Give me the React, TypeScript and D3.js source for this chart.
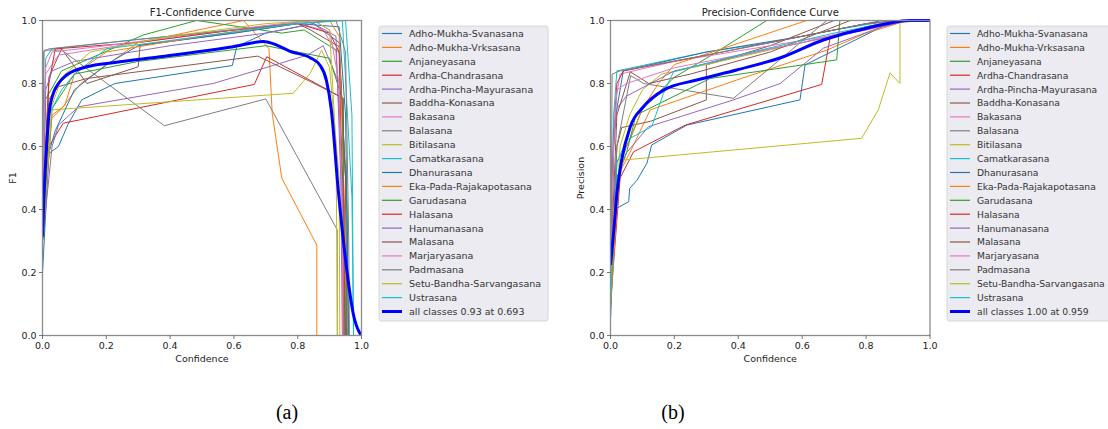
import React from "react";
import * as d3 from "d3";

const classNames = [
  "Adho-Mukha-Svanasana", "Adho-Mukha-Vrksasana", "Anjaneyasana", "Ardha-Chandrasana",
  "Ardha-Pincha-Mayurasana", "Baddha-Konasana", "Bakasana", "Balasana", "Bitilasana",
  "Camatkarasana", "Dhanurasana", "Eka-Pada-Rajakapotasana", "Garudasana", "Halasana",
  "Hanumanasana", "Malasana", "Marjaryasana", "Padmasana", "Setu-Bandha-Sarvangasana", "Ustrasana",
];

const tab10 = ["#1f77b4", "#ff7f0e", "#2ca02c", "#d62728", "#9467bd", "#8c564b", "#e377c2", "#7f7f7f", "#bcbd22", "#17becf"];

const ticks = [0, 0.2, 0.4, 0.6, 0.8, 1.0];

// [confidence, F1] per class
const f1Curves: number[][][] = [
  [[0, 0.2], [0.02, 0.578], [0.05, 0.6], [0.08, 0.67], [0.123, 0.748], [0.227, 0.8], [0.595, 0.857], [0.609, 0.917], [0.7, 0.96], [0.85, 0.99], [0.93, 0.93], [0.95, 0.5], [0.955, 0]],
  [[0, 0.3], [0.02, 0.68], [0.06, 0.72], [0.12, 0.8], [0.3, 0.93], [0.63, 1.0], [0.71, 0.91], [0.72, 0.706], [0.75, 0.5], [0.86, 0.287], [0.86, 0]],
  [[0, 0.4], [0.01, 0.75], [0.06, 0.84], [0.316, 0.954], [0.483, 1.0], [0.62, 0.98], [0.75, 0.96], [0.82, 0.97], [0.93, 0.9], [0.955, 0.4], [0.958, 0]],
  [[0, 0.3], [0.02, 0.6], [0.065, 0.674], [0.664, 0.797], [0.703, 0.885], [0.943, 0.753], [0.945, 0]],
  [[0, 0.3], [0.03, 0.6], [0.05, 0.668], [0.113, 0.726], [0.535, 0.8], [0.83, 0.89], [0.88, 0.92], [0.93, 0.8], [0.945, 0.3], [0.948, 0]],
  [[0, 0.4], [0.02, 0.82], [0.06, 0.91], [0.139, 0.8], [0.3, 0.853], [0.306, 0.922], [0.6, 0.96], [0.8, 0.99], [0.84, 0.97], [0.93, 0.917], [0.95, 0.5], [0.953, 0]],
  [[0, 0.5], [0.01, 0.83], [0.05, 0.89], [0.3, 0.93], [0.6, 0.97], [0.8, 0.99], [0.88, 0.97], [0.92, 0.9], [0.94, 0.5], [0.945, 0]],
  [[0, 0.5], [0.005, 0.906], [0.06, 0.906], [0.382, 0.666], [0.7, 0.751], [0.924, 0.335], [0.924, 0]],
  [[0, 0.3], [0.024, 0.716], [0.786, 0.769], [0.839, 0.832], [0.875, 0.906], [0.9, 0.85], [0.93, 0.5], [0.932, 0]],
  [[0, 0.5], [0.01, 0.88], [0.03, 0.91], [0.3, 0.94], [0.6, 0.97], [0.85, 1.0], [0.94, 1.0], [0.97, 0.44], [0.975, 0]],
  [[0, 0.3], [0.02, 0.58], [0.04, 0.65], [0.1, 0.78], [0.2, 0.86], [0.3, 0.92], [0.6, 0.96], [0.8, 0.99], [0.93, 0.98], [0.95, 0.7], [0.96, 0]],
  [[0, 0.3], [0.03, 0.7], [0.07, 0.73], [0.1, 0.83], [0.2, 0.9], [0.5, 0.95], [0.7, 0.98], [0.9, 1.0], [0.93, 0.95], [0.95, 0.3], [0.95, 0]],
  [[0, 0.3], [0.03, 0.72], [0.1, 0.83], [0.3, 0.87], [0.7, 0.92], [0.9, 0.88], [0.94, 0.75], [0.95, 0]],
  [[0, 0.4], [0.02, 0.8], [0.04, 0.91], [0.3, 0.93], [0.6, 0.97], [0.8, 0.99], [0.9, 0.96], [0.93, 0.9], [0.94, 0.4], [0.943, 0]],
  [[0, 0.4], [0.01, 0.78], [0.03, 0.84], [0.1, 0.87], [0.4, 0.92], [0.7, 0.96], [0.85, 0.99], [0.92, 0.95], [0.935, 0.5], [0.94, 0]],
  [[0, 0.4], [0.02, 0.75], [0.05, 0.79], [0.139, 0.816], [0.675, 0.887], [0.84, 0.806], [0.93, 0.76], [0.945, 0.4], [0.948, 0]],
  [[0, 0.5], [0.01, 0.85], [0.03, 0.9], [0.2, 0.92], [0.5, 0.96], [0.75, 0.99], [0.85, 1.0], [0.9, 0.97], [0.93, 0.8], [0.94, 0.4], [0.942, 0]],
  [[0, 0.6], [0.003, 0.9], [0.02, 0.91], [0.3, 0.94], [0.6, 0.97], [0.8, 0.99], [0.92, 1.0], [0.95, 0.9], [0.96, 0.3], [0.962, 0]],
  [[0, 0.3], [0.03, 0.73], [0.06, 0.82], [0.15, 0.9], [0.4, 0.95], [0.7, 0.99], [0.85, 1.0], [0.9, 0.97], [0.92, 0.6], [0.925, 0]],
  [[0, 0.4], [0.02, 0.7], [0.06, 0.78], [0.1, 0.83], [0.2, 0.91], [0.5, 0.95], [0.8, 0.99], [0.95, 1.0], [0.97, 0.7], [0.975, 0]],
];

const f1All = [
  [0, 0.314], [0.005, 0.45], [0.013, 0.6], [0.02, 0.7], [0.034, 0.769], [0.05, 0.8], [0.076, 0.827], [0.139, 0.853],
  [0.227, 0.867], [0.368, 0.885], [0.598, 0.917], [0.693, 0.933], [0.734, 0.922], [0.776, 0.902], [0.839, 0.882],
  [0.87, 0.858], [0.89, 0.81], [0.905, 0.72], [0.927, 0.462], [0.954, 0.208], [0.974, 0.07], [0.995, 0.007], [1.0, 0],
];

// [confidence, precision] per class
const precCurves: number[][][] = [
  [[0, 0.05], [0.01, 0.3], [0.02, 0.404], [0.057, 0.425], [0.06, 0.467], [0.083, 0.493], [0.114, 0.547], [0.129, 0.605], [0.239, 0.668], [0.593, 0.748], [0.609, 0.859], [0.75, 0.93], [0.85, 0.98], [0.93, 1.0], [1, 1]],
  [[0, 0.1], [0.02, 0.5], [0.05, 0.56], [0.07, 0.6], [0.124, 0.716], [0.395, 0.811], [0.677, 0.906], [0.8, 0.96], [0.93, 1.0], [1, 1]],
  [[0, 0.1], [0.02, 0.55], [0.06, 0.62], [0.1, 0.72], [0.2, 0.82], [0.3, 0.88], [0.489, 1.0], [1, 1]],
  [[0, 0.1], [0.03, 0.5], [0.072, 0.583], [0.234, 0.668], [0.661, 0.797], [0.687, 0.943], [0.8, 0.98], [0.9, 1.0], [1, 1]],
  [[0, 0.1], [0.02, 0.5], [0.05, 0.58], [0.119, 0.663], [0.385, 0.748], [0.531, 0.8], [0.666, 0.912], [0.85, 0.98], [0.93, 1.0], [1, 1]],
  [[0, 0.1], [0.02, 0.6], [0.035, 0.66], [0.125, 0.68], [0.3, 0.748], [0.3, 0.859], [0.5, 0.92], [0.7, 1.0], [1, 1]],
  [[0, 0.2], [0.01, 0.7], [0.03, 0.83], [0.2, 0.87], [0.5, 0.92], [0.8, 0.97], [0.92, 1.0], [1, 1]],
  [[0, 0.2], [0.02, 0.6], [0.063, 0.825], [0.104, 0.8], [0.385, 0.753], [0.677, 1.0], [1, 1]],
  [[0, 0.1], [0.03, 0.6], [0.06, 0.7], [0.1, 0.78], [0.16, 0.83], [0.3, 0.86], [0.6, 0.93], [0.85, 0.99], [0.93, 1], [1, 1]],
  [[0, 0.2], [0.01, 0.7], [0.02, 0.84], [0.3, 0.9], [0.5, 0.93], [0.7, 0.97], [0.88, 1.0], [1, 1]],
  [[0, 0.2], [0.01, 0.65], [0.02, 0.72], [0.04, 0.84], [0.3, 0.9], [0.6, 0.95], [0.85, 1.0], [1, 1]],
  [[0, 0.1], [0.03, 0.55], [0.1, 0.72], [0.15, 0.8], [0.2, 0.86], [0.614, 1.0], [1, 1]],
  [[0, 0.1], [0.02, 0.5], [0.05, 0.58], [0.08, 0.7], [0.312, 0.816], [0.708, 0.875], [0.718, 1.0], [1, 1]],
  [[0, 0.2], [0.01, 0.6], [0.02, 0.8], [0.04, 0.84], [0.3, 0.89], [0.6, 0.95], [0.8, 0.99], [0.9, 1], [1, 1]],
  [[0, 0.2], [0.01, 0.6], [0.02, 0.72], [0.05, 0.76], [0.2, 0.84], [0.5, 0.91], [0.8, 0.97], [0.92, 1], [1, 1]],
  [[0, 0.2], [0.02, 0.7], [0.062, 0.837], [0.12, 0.8], [0.25, 0.83], [0.5, 0.9], [0.75, 1.0], [1, 1]],
  [[0, 0.2], [0.01, 0.62], [0.02, 0.78], [0.05, 0.8], [0.2, 0.85], [0.4, 0.89], [0.6, 0.93], [0.8, 0.98], [0.9, 1], [1, 1]],
  [[0, 0.1], [0.003, 0.5], [0.005, 0.83], [0.03, 0.84], [0.3, 0.89], [0.6, 0.95], [0.8, 0.99], [0.93, 1], [1, 1]],
  [[0, 0.1], [0.01, 0.4], [0.04, 0.557], [0.786, 0.626], [0.838, 0.716], [0.875, 0.834], [0.906, 0.8], [0.906, 1.0], [1, 1]],
  [[0, 0.1], [0.02, 0.55], [0.05, 0.62], [0.129, 0.663], [0.166, 0.769], [0.197, 0.837], [0.4, 0.89], [0.7, 0.96], [0.9, 1], [1, 1]],
];

const precAll = [
  [0, 0.224], [0.01, 0.33], [0.02, 0.45], [0.035, 0.557], [0.062, 0.663], [0.103, 0.726], [0.166, 0.779], [0.27, 0.811],
  [0.395, 0.843], [0.541, 0.885], [0.666, 0.938], [0.718, 0.954], [0.78, 0.97], [0.864, 0.99], [0.937, 1.0], [1.0, 1.0],
];

const font = "'DejaVu Sans', sans-serif";

type PanelProps = {
  x0: number; x1: number; title: string; yLabel: string;
  curves: number[][][]; all: number[][]; allLabel: string;
  legendX: number; legendW: number; legendFont: number;
};

function Panel({ x0, x1, title, yLabel, curves, all, allLabel, legendX, legendW, legendFont }: PanelProps) {
  const top = 20.5, bottom = 335.5;
  const x = d3.scaleLinear().domain([0, 1]).range([x0, x1]);
  const y = d3.scaleLinear().domain([0, 1]).range([bottom, top]);
  const line = d3.line<number[]>().x((d) => x(d[0])).y((d) => y(d[1]));
  const smooth = d3.line<number[]>().x((d) => x(d[0])).y((d) => y(d[1])).curve(d3.curveMonotoneX);
  const legTop = 26, rowH = 13.9, firstY = 33.5;
  const rows = [...classNames, allLabel];
  return (
    <g>
      <defs>
        <clipPath id={"clip" + x0}>
          <rect x={x0} y={top - 2} width={x1 - x0} height={bottom - top + 2} />
        </clipPath>
      </defs>
      <g clipPath={`url(#clip${x0})`}>
        {curves.map((c, i) => (
          <path key={i} d={line(c) || ""} fill="none" stroke={tab10[i % 10]} strokeWidth={1} />
        ))}
        <path d={smooth(all) || ""} fill="none" stroke="#0000ff" strokeWidth={3} strokeLinejoin="round" />
      </g>
      <rect x={x0} y={top} width={x1 - x0} height={bottom - top} fill="none" stroke="#8c8c8c" strokeWidth={1.3} />
      {ticks.map((t) => (
        <g key={t}>
          <line x1={x(t)} x2={x(t)} y1={bottom} y2={bottom + 3.5} stroke="#555" strokeWidth={0.8} />
          <text x={x(t)} y={bottom + 13} fontSize={9.5} textAnchor="middle" fill="#222" fontFamily={font}>{t.toFixed(1)}</text>
          <line x1={x0 - 3.5} x2={x0} y1={y(t)} y2={y(t)} stroke="#555" strokeWidth={0.8} />
          <text x={x0 - 6} y={y(t) + 3.4} fontSize={9.5} textAnchor="end" fill="#222" fontFamily={font}>{t.toFixed(1)}</text>
        </g>
      ))}
      <text x={(x0 + x1) / 2} y={16} fontSize={10} textAnchor="middle" fill="#222" fontFamily={font}>{title}</text>
      <text x={(x0 + x1) / 2} y={362} fontSize={9.5} textAnchor="middle" fill="#222" fontFamily={font}>Confidence</text>
      <text transform={`translate(${x0 - 27},${(top + bottom) / 2}) rotate(-90)`} fontSize={9.5} textAnchor="middle" fill="#222" fontFamily={font}>{yLabel}</text>
      <rect x={legendX} y={legTop} width={legendW} height={295} fill="#ebebf1" stroke="#d0d0d0" strokeWidth={0.8} rx={2} />
      {rows.map((name, i) => {
        const ry = firstY + i * rowH;
        const isAll = i === classNames.length;
        return (
          <g key={name}>
            <line x1={legendX + 3} x2={legendX + 23} y1={ry} y2={ry}
              stroke={isAll ? "#0000ff" : tab10[i % 10]} strokeWidth={isAll ? 3 : 1.2} />
            <text x={legendX + 30} y={ry + 3.4} fontSize={legendFont} fill="#333" fontFamily={font}>{name}</text>
          </g>
        );
      })}
    </g>
  );
}

export default function App() {
  return (
    <svg width={1108} height={429} style={{ position: "absolute", left: 0, top: 0, background: "white" }}>
      <Panel x0={42.5} x1={361.5} title="F1-Confidence Curve" yLabel="F1"
        curves={f1Curves} all={f1All} allLabel="all classes 0.93 at 0.693" legendX={379} legendW={169} legendFont={9.5} />
      <Panel x0={610.5} x1={930} title="Precision-Confidence Curve" yLabel="Precision"
        curves={precCurves} all={precAll} allLabel="all classes 1.00 at 0.959" legendX={947} legendW={170} legendFont={9.2} />
      <text x={287} y={419} fontSize={20} textAnchor="middle" fontFamily="'Liberation Serif', serif">(a)</text>
      <text x={673} y={419} fontSize={20} textAnchor="middle" fontFamily="'Liberation Serif', serif">(b)</text>
    </svg>
  );
}
